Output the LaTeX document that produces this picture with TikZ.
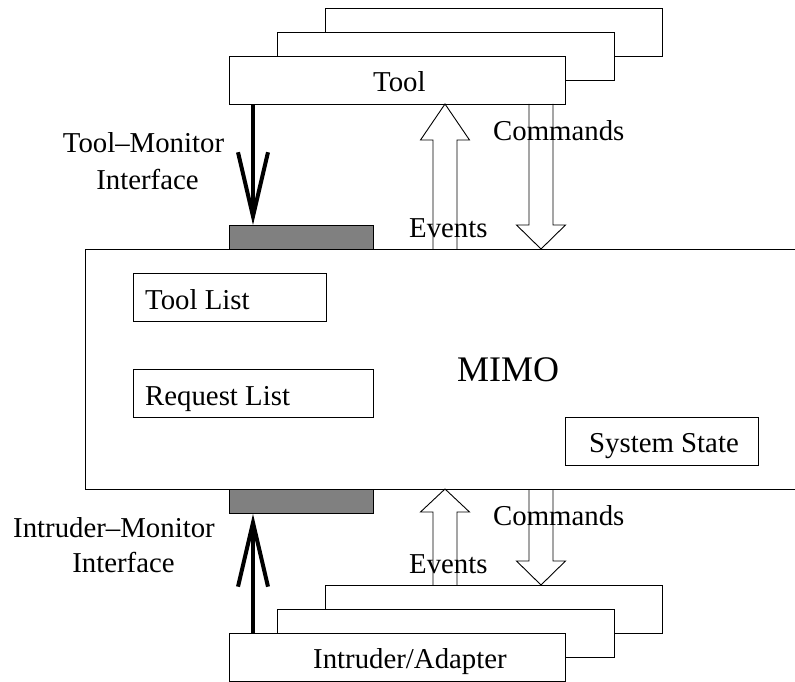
\documentclass[tikz,border=0pt]{standalone}
\usepackage{fontspec}
\setmainfont{Liberation Serif}
\usetikzlibrary{calc,arrows.meta}
\tikzset{
  box/.style={draw, fill=white, line width=0.9pt, inner sep=0pt, anchor=north west},
  iface/.style={draw, fill=black!50, line width=0.9pt, inner sep=0pt, anchor=north west},
  lbl/.style={inner sep=0pt, anchor=base west, font=\fontsize{28.8}{34}\selectfont},
  bigarrow/.style={line width=4pt, -{Straight Barb[length=64pt, width=30pt, line width=4pt]}},
  hollow/.style={draw, line width=0.9pt, line join=miter},
}
% hollow block arrow: centre x, tip y, head base y, tail y, head half width
\newcommand\blockarrow[5]{%
  \draw[hollow] (#1-12,#4) -- (#1-12,#3) -- (#1-#5,#3) -- (#1,#2)
    -- (#1+#5,#3) -- (#1+12,#3) -- (#1+12,#4);}
\begin{document}
\begin{tikzpicture}[x=1pt, y=-1pt]
\useasboundingbox (0,0) rectangle (795,682);

% stack of tools
\node[box, minimum width=337pt, minimum height=48pt] (toolC) at (325,8) {};
\node[box, minimum width=337pt, minimum height=48pt] (toolB) at (277,32) {};
\node[box, minimum width=336pt, minimum height=48pt] (tool) at (229,56) {};
\node[lbl] (toolT) at (373,92) {Tool};

% monitor
\node[box, minimum width=720pt, minimum height=240pt] (mimo) at (85,249) {};
\node[lbl, font=\fontsize{36}{42}\selectfont] (mimoT) at (457,381) {MIMO};
\node[box, minimum width=193pt, minimum height=48pt] (tlist) at (133,273) {};
\node[lbl] (tlistT) at (145,309) {Tool List};
\node[box, minimum width=240pt, minimum height=48pt] (rlist) at (133,369) {};
\node[lbl] (rlistT) at (145,405) {Request List};
\node[box, minimum width=193pt, minimum height=48pt] (sstate) at (565,417) {};
\node[lbl] (sstateT) at (589,452) {System State};

% interfaces
\node[iface, minimum width=144pt, minimum height=24pt] (tmi) at (229,225) {};
\node[iface, minimum width=144pt, minimum height=24pt] (imi) at (229,489) {};

% stack of intruders
\node[box, minimum width=337pt, minimum height=48pt] (intC) at (325,585) {};
\node[box, minimum width=337pt, minimum height=48pt] (intB) at (277,609) {};
\node[box, minimum width=336pt, minimum height=48pt] (intr) at (229,633) {};
\node[lbl] (intrT) at (313,668) {Intruder/Adapter};

% interface arrows
\draw[bigarrow] ($(tool.south west)+(24,0)$) -- ($(tmi.north west)+(24,0)$);
\draw[bigarrow] ($(intr.north west)+(24,0)$) -- ($(imi.south west)+(24,0)$);

% event and command arrows
\blockarrow{445}{104}{140}{249}{24.5}
\blockarrow{541}{249}{225}{104}{24.5}
\blockarrow{445}{489}{512}{585}{24.5}
\blockarrow{541}{585}{561}{489}{24.5}

% labels
\node[lbl, anchor=base] (tmiT1) at (143.5,153) {Tool–Monitor};
\node[lbl, anchor=base] (tmiT2) at (147.5,189) {Interface};
\node[lbl, anchor=base] (imiT1) at (114,537) {Intruder–Monitor};
\node[lbl, anchor=base] (imiT2) at (123.5,572) {Interface};
\node[lbl] (cmdT1) at (493,140) {Commands};
\node[lbl] (evT1) at (409,237) {Events};
\node[lbl] (cmdT2) at (493,525) {Commands};
\node[lbl] (evT2) at (409,573) {Events};
\end{tikzpicture}
\end{document}
